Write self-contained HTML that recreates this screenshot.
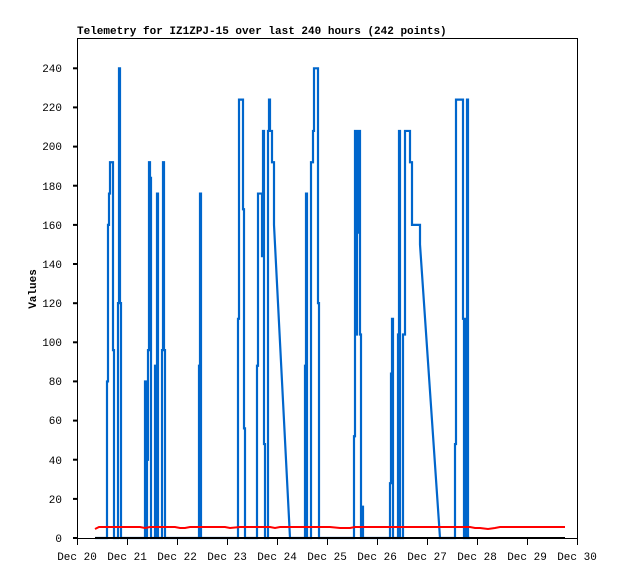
<!DOCTYPE html>
<html><head><meta charset="utf-8"><style>body{margin:0;background:#fff}svg{display:block}text{font-family:"Liberation Mono","DejaVu Sans Mono",monospace;font-size:11px;fill:#000}</style></head><body>
<svg width="618" height="579" xmlns="http://www.w3.org/2000/svg">
<rect width="618" height="579" fill="#fff"/>
<text x="77" y="34" font-weight="bold">Telemetry for IZ1ZPJ-15 over last 240 hours (242 points)</text>
<rect x="77.5" y="38.5" width="500" height="500" fill="none" stroke="#000"/>
<g stroke="#000" stroke-width="2">
<line x1="73" y1="538" x2="77" y2="538"/><line x1="73" y1="498.9" x2="77" y2="498.9"/><line x1="73" y1="459.7" x2="77" y2="459.7"/><line x1="73" y1="420.6" x2="77" y2="420.6"/><line x1="73" y1="381.4" x2="77" y2="381.4"/><line x1="73" y1="342.3" x2="77" y2="342.3"/><line x1="73" y1="303.2" x2="77" y2="303.2"/><line x1="73" y1="264" x2="77" y2="264"/><line x1="73" y1="224.9" x2="77" y2="224.9"/><line x1="73" y1="185.7" x2="77" y2="185.7"/><line x1="73" y1="146.6" x2="77" y2="146.6"/><line x1="73" y1="107.4" x2="77" y2="107.4"/><line x1="73" y1="68.3" x2="77" y2="68.3"/>
</g>
<g text-anchor="end">
<text x="62" y="542">0</text><text x="62" y="503">20</text><text x="62" y="464">40</text><text x="62" y="424">60</text><text x="62" y="385">80</text><text x="62" y="346">100</text><text x="62" y="307">120</text><text x="62" y="268">140</text><text x="62" y="229">160</text><text x="62" y="190">180</text><text x="62" y="150">200</text><text x="62" y="111">220</text><text x="62" y="72">240</text>
</g>
<text transform="translate(36,289) rotate(-90)" text-anchor="middle" font-weight="bold">Values</text>
<g stroke="#000" stroke-width="1">
<line x1="77.5" y1="538" x2="77.5" y2="545"/><line x1="127.5" y1="538" x2="127.5" y2="545"/><line x1="177.5" y1="538" x2="177.5" y2="545"/><line x1="227.5" y1="538" x2="227.5" y2="545"/><line x1="277.5" y1="538" x2="277.5" y2="545"/><line x1="327.5" y1="538" x2="327.5" y2="545"/><line x1="377.5" y1="538" x2="377.5" y2="545"/><line x1="427.5" y1="538" x2="427.5" y2="545"/><line x1="477.5" y1="538" x2="477.5" y2="545"/><line x1="527.5" y1="538" x2="527.5" y2="545"/><line x1="577.5" y1="538" x2="577.5" y2="545"/>
</g>
<g text-anchor="middle">
<text x="77" y="560">Dec 20</text><text x="127" y="560">Dec 21</text><text x="177" y="560">Dec 22</text><text x="227" y="560">Dec 23</text><text x="277" y="560">Dec 24</text><text x="327" y="560">Dec 25</text><text x="377" y="560">Dec 26</text><text x="427" y="560">Dec 27</text><text x="477" y="560">Dec 28</text><text x="527" y="560">Dec 29</text><text x="577" y="560">Dec 30</text>
</g>
<g transform="translate(0,538) scale(1,-1.957)">
<polyline fill="none" stroke="#0066cc" stroke-width="2.2" vector-effect="non-scaling-stroke" stroke-linejoin="miter" points="
95,0 107,0 107,80 108,80 108,160 109,160 109,176 110,176 110,192 113,192 113,96 114,96 114,0 118,0 118,120 119,120 119,240 120,240 120,120 121,120 121,0
145,0 145,80 146,80 146,0 147,0 147,40 148,40 148,96 149,96 149,192 150,192 150,184 151,184 151,0 155,0 155,88 156,88 156,0 157,0 157,176 158,176 158,0 162,0 162,96 163,96 163,192 164,192 164,96 165,96 165,0
199,0 199,88 200,88 200,176 201,176 201,0
238,0 238,112 239,112 239,224 243,224 243,168 244,168 244,56 245,56 245,0
257,0 257,88 258,88 258,176 262,176 262,144 263,144 263,208 264,208 264,48 265,48 265,0 268,0 268,208 269,208 269,224 270,224 270,208 272,208 272,192 274,192 274,160 290,0
305,0 305,88 306,88 306,176 307,176 307,0 311,0 311,192 313,192 313,208 314,208 314,240 318,240 318,120 319,120 319,0
354,0 354,52 355,52 355,208 356,208 356,104 357,104 357,156 358,156 358,208 360,208 360,104 361,104 361,0 362,0 362,16 363,16 363,0
390,0 390,28 391,28 391,84 392,84 392,112 393,112 393,0 398,0 398,104 399,104 399,208 400,208 400,0 403,0 403,104 405,104 405,208 410,208 410,192 412,192 412,160 420,160 420,150 440,0
455,0 455,48 456,48 456,224 463,224 463,112 464,112 464,0 466,0 466,112 467,112 467,224 468,224 468,0 470,0"/>
</g>
<polyline fill="none" stroke="#f00" stroke-width="2" points="95,529 97,528 99,527 140,527 145,528 150,527 175,527 180,528 185,528 190,527 210,527 225,527 230,528 240,527 265,527 270,527 275,528 280,527 320,527 330,527 340,528 350,528 355,527 380,527 385,527 400,527 430,527 440,527 470,527 475,528 480,528 488,529 495,528 500,527 565,527"/>
<line x1="95" y1="538" x2="565" y2="538" stroke="#000" stroke-width="2"/>
</svg>
</body></html>
